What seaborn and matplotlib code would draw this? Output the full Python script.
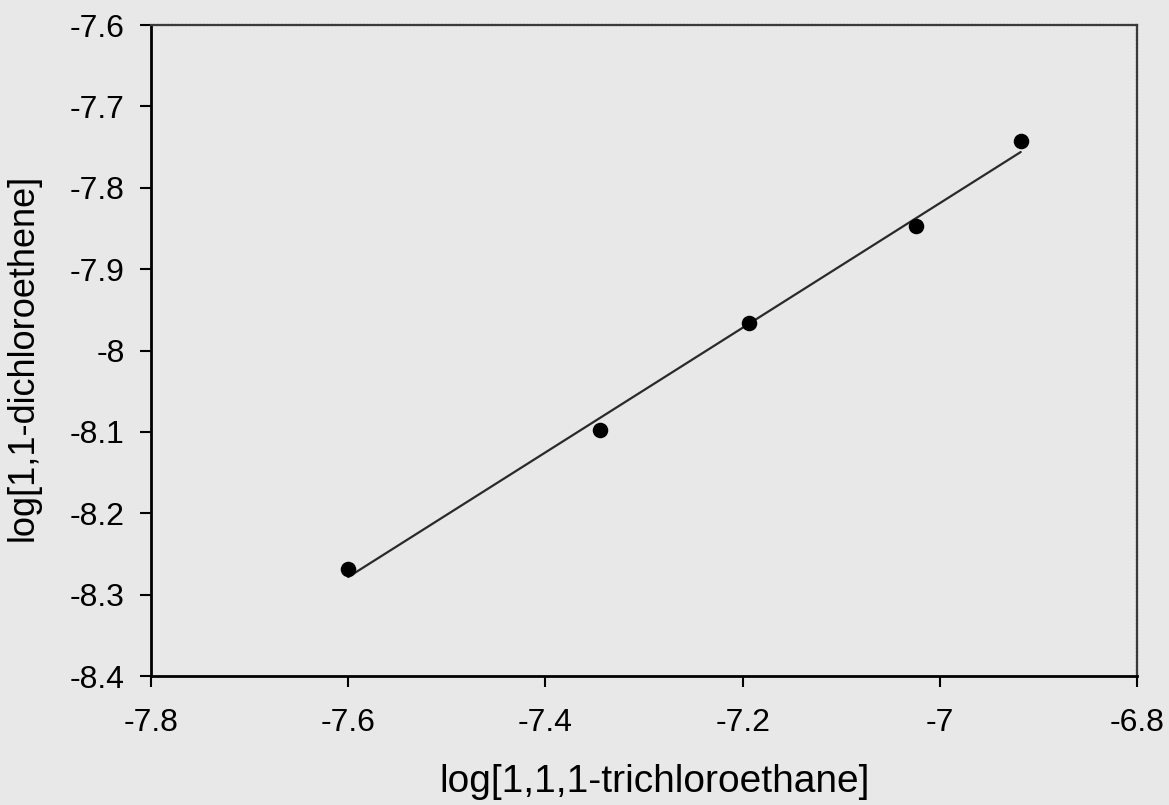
import matplotlib
matplotlib.use("Agg")
import matplotlib.pyplot as plt
import seaborn as sns
import pandas as pd

# Data
x_vals = [-7.600, -7.345, -7.194, -7.024, -6.918]
y_vals = [-8.268, -8.098, -7.966, -7.847, -7.743]
x_ticks = [-7.8, -7.6, -7.4, -7.2, -7.0, -6.8]
x_tick_labels = ["-7.8", "-7.6", "-7.4", "-7.2", "-7", "-6.8"]
y_ticks = [-7.6, -7.7, -7.8, -7.9, -8.0, -8.1, -8.2, -8.3, -8.4]
y_tick_labels = ["-7.6", "-7.7", "-7.8", "-7.9", "-8", "-8.1", "-8.2", "-8.3", "-8.4"]
x_label = "log[1,1,1-trichloroethane]"
y_label = "log[1,1-dichloroethene]"

df = pd.DataFrame({"x": x_vals, "y": y_vals})

sns.set_theme(style="white")
plt.rcParams["font.family"] = ["Liberation Sans", "DejaVu Sans"]
plt.rcParams["text.color"] = "black"
plt.rcParams["axes.labelcolor"] = "black"

bg = "#e8e8e8"
fig = plt.figure(figsize=(11.69, 8.05), dpi=100, facecolor=bg)
ax = fig.add_axes([0.1292, 0.1602, 0.8435, 0.8087])
ax.set_facecolor(bg)

sns.regplot(data=df, x="x", y="y", ax=ax, ci=None, truncate=True,
            scatter_kws=dict(s=125, color="black", edgecolor="black",
                             alpha=1, linewidths=0, zorder=3),
            line_kws=dict(color="#2a2a2a", linewidth=1.6, zorder=2))

ax.set_xlim(-7.8, -6.8)
ax.set_ylim(-8.4, -7.6)
ax.set_xticks(x_ticks)
ax.set_xticklabels(x_tick_labels)
ax.set_yticks(y_ticks)
ax.set_yticklabels(y_tick_labels)
ax.set_xlabel(x_label, fontsize=28)
ax.set_ylabel(y_label, fontsize=26)
ax.xaxis.set_label_coords(0.511, -0.135)
ax.yaxis.set_label_coords(-0.112, 0.49)
ax.tick_params(axis="both", direction="out", length=8, width=1.5,
               colors="black", labelsize=23, bottom=True, left=True)
ax.tick_params(axis="x", pad=15)
ax.tick_params(axis="y", pad=11)

for side in ["left", "bottom"]:
    ax.spines[side].set_color("black")
    ax.spines[side].set_linewidth(2)
for side in ["top", "right"]:
    ax.spines[side].set_color("#3a3a3a")
    ax.spines[side].set_linewidth(1.6)
    ax.spines[side].set_linestyle((0, (1, 0.6)))

fig.savefig("out.png", dpi=100, facecolor=bg)
